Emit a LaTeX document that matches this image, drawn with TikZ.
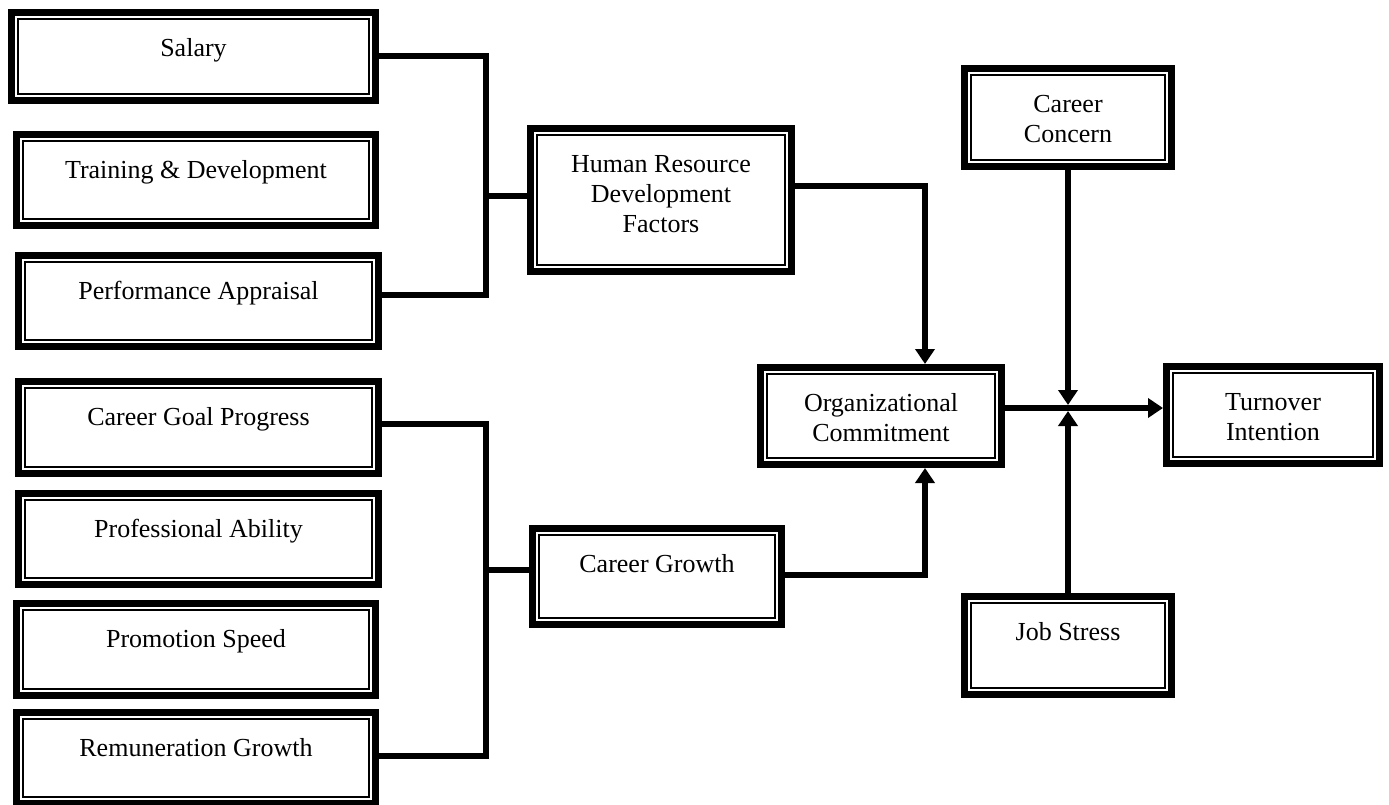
\documentclass[tikz,border=0pt]{standalone}
\usepackage{fontspec}
\setmainfont{Liberation Serif}
\usetikzlibrary{arrows.meta,calc}
\tikzset{
  dbox/.style={draw, line width=7pt, inner sep=0pt,
    path picture={\draw[line width=2pt]
      ([shift={(6.5pt,6.5pt)}]path picture bounding box.south west) rectangle
      ([shift={(-6.5pt,-6.5pt)}]path picture bounding box.north east);}},
  txt/.style={inner sep=0pt, align=center, font=\fontsize{26}{30}\selectfont},
  conn/.style={line width=6pt},
  arr/.style={conn, -{Triangle[length=15pt,width=19pt]}}
}
\newcommand\mybox[6]{%
  \node[dbox, minimum width={(#4-#2-7)*1pt}, minimum height={(#5-#3-7)*1pt}]
    (#1) at ({(#2+#4)/2},{(#3+#5)/2}) {};
  \node[txt, anchor=north] (#1-t) at ([yshift=-26pt]#1.north) {\rule{0pt}{21pt}#6};
}
\begin{document}
\begin{tikzpicture}[x=1pt,y=-1pt]
\useasboundingbox (0,0) rectangle (1389,805);
\mybox{sal}{8}{9}{379}{104}{Salary}
\mybox{trn}{13}{131}{379}{229}{Training \& Development}
\mybox{per}{15}{252}{382}{350}{Performance Appraisal}
\mybox{cgp}{15}{378}{382}{477}{Career Goal Progress}
\mybox{pab}{15}{490}{382}{588}{Professional Ability}
\mybox{pro}{13}{600}{379}{699}{Promotion Speed}
\mybox{rem}{13}{709}{379}{807}{Remuneration Growth}
\mybox{hrd}{527}{125}{795}{275}{Human Resource\\Development\\Factors}
\mybox{cg}{529}{525}{785}{628}{Career Growth}
\mybox{oc}{757}{364}{1005}{468}{Organizational\\Commitment}
\mybox{ti}{1163}{363}{1383}{467}{Turnover\\Intention}
\mybox{cc}{961}{65}{1175}{170}{Career\\Concern}
\mybox{js}{961}{593}{1175}{698}{Job Stress}

\draw[conn] (sal.east) -| (486,295) -- (per.east |- 0,295);
\draw[conn] (486,196) -- (hrd.west |- 0,196);
\draw[conn] (cgp.east |- 0,424) -| (486,756) -- (rem.east |- 0,756);
\draw[conn] (486,570) -- (cg.west |- 0,570);
\draw[arr] (hrd.east |- 0,186) -| (oc.north -| 925,0);
\draw[arr] (cg.east |- 0,575) -| (oc.south -| 925,0);
\draw[arr] (oc.east |- 0,408) -- (ti.west |- 0,408);
\coordinate (jn) at (1068,408);
\draw[arr] (cc.south) -- ([yshift=3pt]jn);
\draw[arr] (js.north) -- ([yshift=-3pt]jn);
\end{tikzpicture}
\end{document}
